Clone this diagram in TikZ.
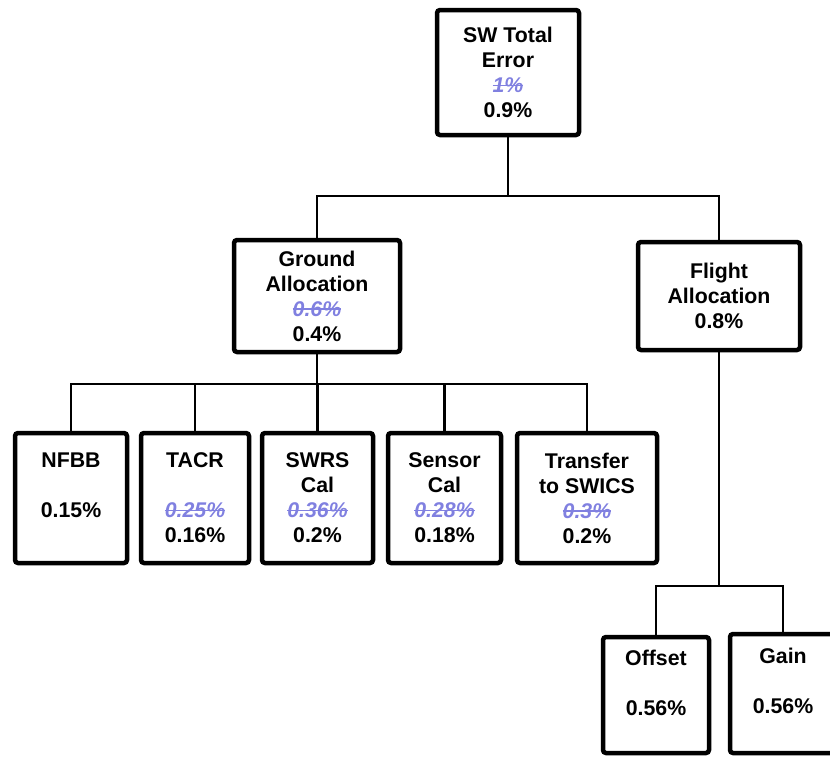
\documentclass[tikz,border=0pt]{standalone}
\usepackage{fontspec}
\setmainfont{Liberation Sans}
\definecolor{oldblue}{RGB}{128,128,224}
\newcommand{\oldpct}[1]{{\color{oldblue}\itshape\setbox0\hbox{#1}\rlap{\copy0}\rule[0.3em]{\wd0}{1.6pt}}}

\begin{document}
\begin{tikzpicture}[x=1pt, y=-1pt,
    blk/.style={draw, rectangle, rounded corners=3pt, line width=4.5pt, inner sep=0pt,
      align=center, font=\bfseries\fontsize{21.3pt}{25pt}\selectfont},
    link/.style={line width=2.5pt}]
    \useasboundingbox (0,0) rectangle (830,756);
    % error budget tree
    \node[blk,minimum width=142pt,minimum height=125pt] (total) at (508,72.5) {SW Total\\Error\\\oldpct{1\%}\\0.9\%};
    \node[blk,minimum width=166pt,minimum height=112pt] (ground) at (317,296) {Ground\\Allocation\\\oldpct{0.6\%}\\0.4\%};
    \node[blk,minimum width=162pt,minimum height=108pt] (flight) at (719,296) {Flight\\Allocation\\0.8\%};

    \node[blk,minimum width=112pt,minimum height=130pt] (nfbb) at (71,498) {NFBB\\\mbox{}\\0.15\%\\\mbox{}};
    \node[blk,minimum width=108pt,minimum height=130pt] (tacr) at (195,498) {TACR\\\mbox{}\\\oldpct{0.25\%}\\0.16\%};
    \node[blk,minimum width=111pt,minimum height=130pt] (swrs) at (317.5,498) {SWRS\\Cal\\\oldpct{0.36\%}\\0.2\%};
    \node[blk,minimum width=113pt,minimum height=130pt] (sensor) at (444.5,498) {Sensor\\Cal\\\oldpct{0.28\%}\\0.18\%};
    \node[blk,minimum width=140pt,minimum height=130pt] (xfer) at (587,498) {Transfer\\to SWICS\\\oldpct{0.3\%}\\0.2\%};

    \node[blk,minimum width=106pt,minimum height=116pt] (offset) at (656,695) {Offset\\\mbox{}\\0.56\%\\\mbox{}};
    \node[blk,minimum width=106pt,minimum height=119pt] (gain) at (783,693.5) {Gain\\\mbox{}\\0.56\%\\\mbox{}};

    \coordinate (busA) at (508,196);
    \coordinate (busB) at (317,384);
    \coordinate (busC) at (719,586);

    \draw[link] (total.south)--(busA); \draw[link] (ground.north) |- (busA) -| (flight.north);
    \draw[link] (ground.south)--(busB); \draw[link] (nfbb.north) |- (busB) -| (xfer.north);
    \draw[link] (tacr.north)--(tacr.north |- busB); \draw[link] (swrs.north)--(swrs.north |- busB);
    \draw[link] (sensor.north)--(sensor.north |- busB);
    \draw[link] (flight.south)--(busC); \draw[link] (offset.north) |- (busC) -| (gain.north);
\end{tikzpicture}
\end{document}
